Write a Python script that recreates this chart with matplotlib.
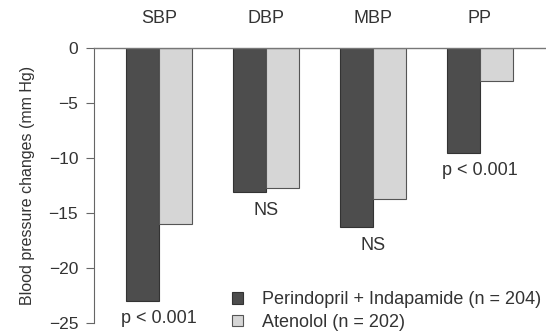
import numpy as np
import matplotlib.pyplot as plt

categories = ['SBP', 'DBP', 'MBP', 'PP']
perindopril = [-23.0, -13.05, -16.3, -9.55]
atenolol = [-16.0, -12.7, -13.7, -3.0]
notes = ['p < 0.001', 'NS', 'NS', 'p < 0.001']
note_y = [-24.6, -14.8, -18.0, -11.1]
labels = ['Perindopril + Indapamide (n = 204)', 'Atenolol (n = 202)']

plt.rcParams['font.family'] = ['Liberation Sans', 'DejaVu Sans']

fig = plt.figure(figsize=(5.46, 3.33), dpi=100)
ax = fig.add_axes([0.172, 0.03, 0.828, 0.826])

x = np.arange(len(categories))
w = 0.31
ax.bar(x - w / 2, perindopril, w, color='#4d4d4d', edgecolor='#333333', linewidth=0.8, label=labels[0])
ax.bar(x + w / 2, atenolol, w, color='#d6d6d6', edgecolor='#555555', linewidth=0.8, label=labels[1])

for i in range(len(categories)):
    ax.text(x[i], note_y[i], notes[i], ha='center', va='center', fontsize=13, color='#333333')

ax.set_xlim(-0.607, 3.62)
ax.set_ylim(-25, 0)
ax.set_yticks([0, -5, -10, -15, -20, -25])
ax.set_yticklabels(['0', '\u22125', '\u221210', '\u221215', '\u221220', '\u221225'])
ax.tick_params(axis='y', direction='out', length=5.8, width=0.8, color='#666666',
               labelsize=12.5, labelcolor='#333333', pad=5.5)

ax.xaxis.tick_top()
ax.set_xticks(x)
ax.set_xticklabels(categories)
ax.tick_params(axis='x', length=0, labelsize=13, labelcolor='#333333', pad=15)

ax.spines['right'].set_visible(False)
ax.spines['bottom'].set_visible(False)
ax.spines['top'].set_color('#777777')
ax.spines['left'].set_color('#666666')
ax.spines['top'].set_linewidth(1.0)
ax.spines['left'].set_linewidth(0.8)

ax.set_ylabel('Blood pressure changes (mm Hg)', fontsize=11.5, color='#333333', labelpad=10)

fig.legend(loc='lower left', bbox_to_anchor=(0.396, -0.042), frameon=False, fontsize=13,
           handlelength=0.6, handleheight=0.6, handletextpad=1.05, labelspacing=0.3,
           labelcolor='#333333')

fig.savefig('out.png', dpi=100)
